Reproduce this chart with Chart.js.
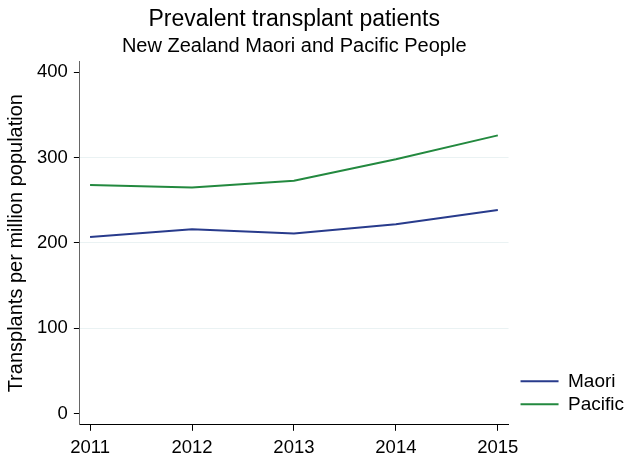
<!DOCTYPE html>
<html lang="en">
<head>
<meta charset="UTF-8">
<title>Prevalent transplant patients</title>
<style>
  body { margin: 0; background: #fff; }
</style>
</head>
<body>
<canvas id="chart" width="628" height="455"></canvas>

<script src="https://cdn.jsdelivr.net/npm/chart.js@4.4.7/dist/chart.umd.min.js"></script>
<script>
// data
const years = [2011, 2012, 2013, 2014, 2015];
const maori = [207, 216, 211, 222, 238.5];
const pacific = [268, 265, 273, 298, 326];
const yTicks = [0, 100, 200, 300, 400];

const font = 'Liberation Sans, Arial, sans-serif';

const toPoints = vals => vals.map((v, i) => ({ x: years[i], y: v }));

// move the legend a bit right and up, like the original
const nudgeLegend = {
  id: 'nudgeLegend',
  afterLayout(chart) {
    const lg = chart.legend;
    lg.left += 8;
    lg.right += 8;
    lg.top -= 7;
    lg.bottom -= 7;
  }
};

new Chart(document.getElementById('chart'), {
  type: 'line',
  data: {
    datasets: [
      { label: 'Maori', data: toPoints(maori), borderColor: '#283b8c', backgroundColor: '#283b8c', borderWidth: 2 },
      { label: 'Pacific', data: toPoints(pacific), borderColor: '#23893f', backgroundColor: '#23893f', borderWidth: 2 }
    ]
  },
  plugins: [nudgeLegend],
  options: {
    responsive: false,
    animation: false,
    elements: {
      point: { radius: 0 },
      line: { tension: 0 }
    },
    layout: { padding: { top: 4, right: 2, bottom: -10, left: 4 } },
    plugins: {
      title: {
        display: true,
        text: 'Prevalent transplant patients',
        color: '#000',
        fullSize: false,
        font: { family: font, size: 23, weight: 'normal' },
        padding: { top: 2, bottom: 0 }
      },
      subtitle: {
        display: true,
        text: 'New Zealand Maori and Pacific People',
        color: '#000',
        fullSize: false,
        font: { family: font, size: 20, weight: 'normal' },
        padding: { top: 1, bottom: 3 }
      },
      legend: {
        position: 'right',
        align: 'end',
        fullSize: false,
        labels: {
          color: '#000',
          font: { family: font, size: 19 },
          usePointStyle: true,
          pointStyle: 'line',
          pointStyleWidth: 38,
          padding: 4
        }
      },
      tooltip: { enabled: false }
    },
    scales: {
      x: {
        type: 'linear',
        min: 2010.9,
        max: 2015.105,
        afterBuildTicks: s => { s.ticks = years.map(v => ({ value: v })); },
        ticks: {
          color: '#000',
          font: { family: font, size: 18.5 },
          padding: 6,
          maxRotation: 0,
          callback: v => String(v)
        },
        grid: { display: true, drawOnChartArea: false, tickColor: '#000', tickLength: 6 },
        border: { color: '#000', width: 1 }
      },
      y: {
        min: -12.9,
        max: 412.4,
        afterBuildTicks: s => { s.ticks = yTicks.map(v => ({ value: v })); },
        ticks: {
          color: '#000',
          font: { family: font, size: 18.5 },
          padding: 6
        },
        title: {
          display: true,
          text: 'Transplants per million population',
          color: '#000',
          font: { family: font, size: 20 },
          padding: { top: 0, bottom: 3 }
        },
        grid: {
          color: c => (c.tick && c.tick.value > 0 && c.tick.value < 400) ? '#eaf2f3' : 'rgba(0,0,0,0)',
          tickColor: '#000',
          tickLength: 6
        },
        border: { color: '#666', width: 1 }
      }
    }
  }
});
</script>
</body>
</html>
